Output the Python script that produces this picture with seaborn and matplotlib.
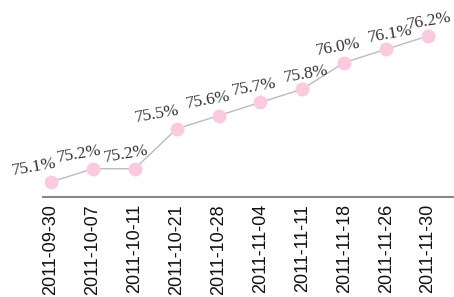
import matplotlib
matplotlib.use("Agg")
import matplotlib.pyplot as plt
import seaborn as sns
import pandas as pd

# Data
dates = ["2011-09-30", "2011-10-07", "2011-10-11", "2011-10-21", "2011-10-28",
         "2011-11-04", "2011-11-11", "2011-11-18", "2011-11-26", "2011-11-30"]
rates = [75.1, 75.2, 75.2, 75.5, 75.6, 75.7, 75.8, 76.0, 76.1, 76.2]

df = pd.DataFrame({"pos": range(len(dates)), "rate": rates})

sns.set_style("white")
fig = plt.figure(figsize=(4.54, 2.97), dpi=100)
ax = fig.add_axes([43 / 454, 1 - 197 / 297, 1 - 43 / 454, 197 / 297])

sns.lineplot(data=df, x="pos", y="rate", ax=ax, color="#bbbbbb", linewidth=1,
             marker="o", markersize=10, markerfacecolor="#fccadf",
             markeredgecolor="none", zorder=3)

# label offsets (px) so the values don't run into the line
label_dx = [-17, -14, -8, -19, -10, -6, 4, -6, 4, 1]
for i, v in enumerate(rates):
    ax.annotate(f"{v:.1f}%", (i, v), xytext=(label_dx[i] * 0.72, 15 * 0.72),
                textcoords="offset points", ha="center", va="center",
                rotation=10, fontsize=12.5, family="Liberation Serif",
                color="#333333")

ax.set_xlim(-0.19, 9.62)
ax.set_ylim(74.987, 76.471)
ax.set_xticks(range(len(dates)))
ax.set_xticklabels(dates, rotation=90, fontsize=13, family="Liberation Sans",
                   color="#111111")
ax.set_yticks([])
ax.set_xlabel("")
ax.set_ylabel("")
ax.tick_params(axis="x", length=0, pad=5)
for s in ["top", "right", "left"]:
    ax.spines[s].set_visible(False)
ax.spines["bottom"].set_color("#888888")
ax.spines["bottom"].set_linewidth(1.5)

fig.savefig("out.png", dpi=100)
